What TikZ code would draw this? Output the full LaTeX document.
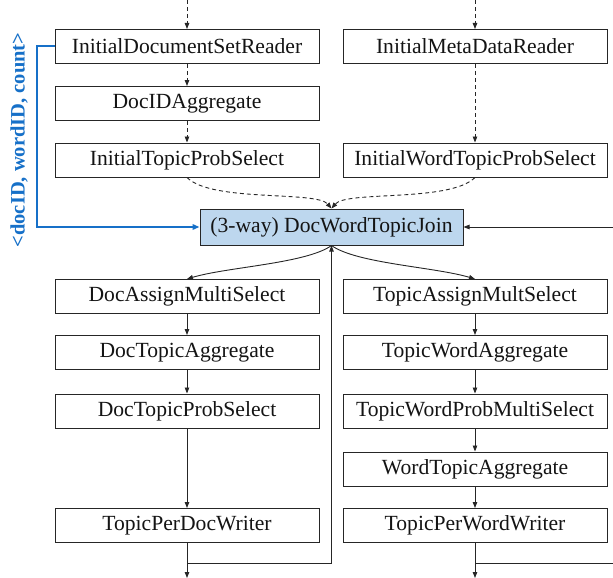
\documentclass[tikz,border=0pt]{standalone}
\usepackage{fontspec}
\setmainfont{Liberation Serif}
\usetikzlibrary{arrows.meta}
\definecolor{joinfill}{RGB}{189,215,238}
\definecolor{labelblue}{RGB}{22,112,200}
\tikzset{
  opbox/.style={draw=black!85, line width=1pt, fill=white, minimum width=264pt, minimum height=34pt, inner sep=0pt, font=\fontsize{21.6}{25}\selectfont, text=black!92},
  joinbox/.style={opbox, fill=joinfill, minimum width=263pt, minimum height=36pt},
  tip/.style={-{Triangle[length=6pt,width=4.5pt]}},
  flow/.style={tip, line width=0.9pt, draw=black!85},
  dflow/.style={flow, dash pattern=on 4pt off 3pt},
  blueflow/.style={-{Triangle[length=7pt,width=5.5pt]}, line width=2pt, draw=labelblue},
  plain/.style={line width=0.9pt, draw=black!85}
}
\begin{document}
\begin{tikzpicture}[x=1pt,y=-1pt]
\useasboundingbox (0,0) rectangle (613,578);
% top left column
\node[opbox] (ISR) at (187,46.5) {InitialDocumentSetReader};
\node[opbox] (DIA) at (187,103.5) {DocIDAggregate};
\node[opbox] (ITP) at (187,160) {InitialTopicProbSelect};
% top right column
\node[opbox] (IMR) at (475,46.5) {InitialMetaDataReader};
\node[opbox] (IWT) at (475,160) {InitialWordTopicProbSelect};
% join
\node[joinbox] (J) at (331.5,227) {(3-way) DocWordTopicJoin};
% lower left
\node[opbox] (DAM) at (187,296.5) {DocAssignMultiSelect};
\node[opbox] (DTA) at (187,352.5) {DocTopicAggregate};
\node[opbox] (DTP) at (187,411) {DocTopicProbSelect};
\node[opbox] (TPD) at (187,525.5) {TopicPerDocWriter};
% lower right
\node[opbox] (TAM) at (475,296.5) {TopicAssignMultSelect};
\node[opbox] (TWA) at (475,352.5) {TopicWordAggregate};
\node[opbox] (TWP) at (475,411) {TopicWordProbMultiSelect};
\node[opbox] (WTA) at (475,469) {WordTopicAggregate};
\node[opbox] (TPW) at (475,525.5) {TopicPerWordWriter};
% free ends
\coordinate (inL) at (187,0);
\coordinate (inR) at (475,0);
\coordinate (inJ) at (613,227);
\coordinate (outL) at (187,578);
\coordinate (outR) at (475,578);
\coordinate (loopL) at (187,563);
\coordinate (loopR) at (475,563);
\coordinate (loopRend) at (613,563);
\coordinate (loopC) at (331.5,563);
\coordinate (blueA) at (37,46.5);
\coordinate (blueB) at (37,227);
% dashed inputs
\draw[dflow] (inL) -- (ISR);
\draw[dflow] (ISR) -- (DIA);
\draw[dflow] (DIA) -- (ITP);
\draw[dflow] (inR) -- (IMR);
\draw[dflow] (IMR) -- (IWT);
\draw[dflow] (ITP.south) .. controls +(25,25) and +(-15,-18) .. (J.north);
\draw[dflow] (IWT.south) .. controls +(-25,25) and +(15,-18) .. (J.north);
% blue
\draw[blueflow] (ISR.west) -- (blueA) -- (blueB) -- (J.west);
\node[rotate=90, font=\fontsize{20.5}{24}\selectfont\bfseries, text=labelblue] (lbl) at (19,140) {<docID, wordID, count>};
% right input to join
\draw[flow] (inJ) -- (J.east);
% join outputs
\draw[flow] (J.south) .. controls +(-25,18) and +(40,-12) .. (DAM.north);
\draw[flow] (J.south) .. controls +(25,18) and +(-40,-12) .. (TAM.north);
% chains
\draw[flow] (DAM) -- (DTA);
\draw[flow] (DTA) -- (DTP);
\draw[flow] (DTP) -- (TPD);
\draw[flow] (TAM) -- (TWA);
\draw[flow] (TWA) -- (TWP);
\draw[flow] (TWP) -- (WTA);
\draw[flow] (WTA) -- (TPW);
% outputs
\draw[flow] (TPD) -- (outL);
\draw[flow] (TPW) -- (outR);
\draw[flow] (loopL) -- (loopC) -- (J.south);
\draw[plain] (loopR) -- (loopRend);
\end{tikzpicture}
\end{document}
